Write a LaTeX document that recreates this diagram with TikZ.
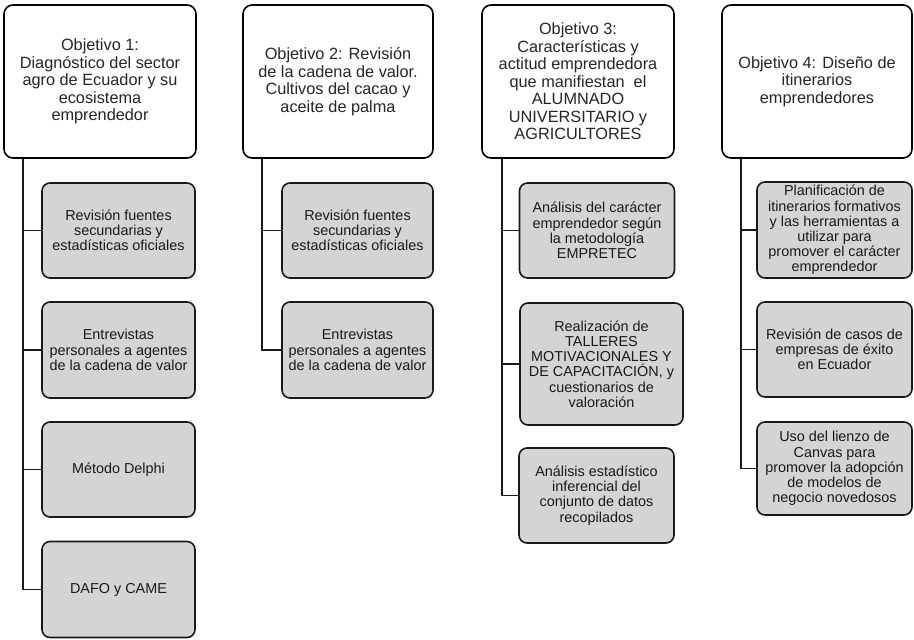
\documentclass[tikz,border=0pt]{standalone}
\usepackage{fontspec}
\setmainfont{Liberation Sans}
\begin{document}
\begin{tikzpicture}[x=1pt,y=-1pt,
  objbox/.style={draw=black,line width=1.6pt,rounded corners=9pt,fill=white,align=center,inner sep=0pt,font=\fontsize{16.3}{17.5}\selectfont,text=black!85},
  subbox/.style={draw=black!90,line width=1.6pt,rounded corners=8pt,fill=black!17,align=center,inner sep=0pt,font=\fontsize{14.4}{15.2}\selectfont,text=black!90},
  link/.style={draw=black!90,line width=1.6pt}]
\useasboundingbox (0,0) rectangle (914,640);
% Objective boxes
\node[objbox,minimum width=192pt,minimum height=153pt] (o1) at (100,81.5) {Objetivo 1:\\Diagnóstico del sector\\agro de Ecuador y su\\ecosistema\\emprendedor};
\node[objbox,minimum width=190pt,minimum height=153pt] (o2) at (338,81.5) {Objetivo 2: Revisión\\de la cadena de valor.\\Cultivos del cacao y\\aceite de palma};
\node[objbox,minimum width=192pt,minimum height=153pt] (o3) at (578,81.5) {Objetivo 3:\\Características y\\actitud emprendedora\\que manifiestan\ \ el\\ALUMNADO\\UNIVERSITARIO y\\AGRICULTORES};
\node[objbox,minimum width=190pt,minimum height=153pt] (o4) at (817,81.5) {Objetivo 4: Diseño de\\itinerarios\\emprendedores};
% Objective 1 children
\node[subbox,minimum width=153pt,minimum height=95pt] (a1) at (118.5,230.5) {Revisión fuentes\\secundarias y\\estadísticas oficiales};
\node[subbox,minimum width=153pt,minimum height=96pt] (a2) at (118.5,350) {Entrevistas\\personales a agentes\\de la cadena de valor};
\node[subbox,minimum width=153pt,minimum height=95pt] (a3) at (118.5,469.5) {Método Delphi};
\node[subbox,minimum width=153pt,minimum height=96pt] (a4) at (118.5,589.5) {DAFO y CAME};
% Objective 2 children
\node[subbox,minimum width=151pt,minimum height=95pt] (b1) at (357.5,230.5) {Revisión fuentes\\secundarias y\\estadísticas oficiales};
\node[subbox,minimum width=151pt,minimum height=96pt] (b2) at (357.5,350) {Entrevistas\\personales a agentes\\de la cadena de valor};
% Objective 3 children
\node[subbox,minimum width=155pt,minimum height=95pt] (c1) at (597,230.5) {Análisis del carácter\\emprendedor según\\la metodología\\EMPRETEC};
\node[subbox,minimum width=163pt,minimum height=122pt] (c2) at (601.5,364) {Realización de\\TALLERES\\MOTIVACIONALES Y\\DE CAPACITACIÓN, y\\cuestionarios de\\valoración};
\node[subbox,minimum width=155pt,minimum height=95pt] (c3) at (596.5,495.5) {Análisis estadístico\\inferencial del\\conjunto de datos\\recopilados};
% Objective 4 children
\node[subbox,minimum width=155pt,minimum height=96pt] (d1) at (834.5,230) {Planificación de\\itinerarios formativos\\y las herramientas a\\utilizar para\\promover el carácter\\emprendedor};
\node[subbox,minimum width=155pt,minimum height=95pt] (d2) at (834.5,349.5) {Revisión de casos de\\empresas de éxito\\en Ecuador};
\node[subbox,minimum width=155pt,minimum height=93pt] (d3) at (834.5,468.5) {Uso del lienzo de\\Canvas para\\promover la adopción\\de modelos de\\negocio novedosos};
% Connectors
\draw[link] (o1.south -| 23,0) |- (a1.west);
\draw[link] (o1.south -| 23,0) |- (a2.west);
\draw[link] (o1.south -| 23,0) |- (a3.west);
\draw[link] (o1.south -| 23,0) |- (a4.west);
\draw[link] (o2.south -| 262,0) |- (b1.west);
\draw[link] (o2.south -| 262,0) |- (b2.west);
\draw[link] (o3.south -| 502,0) |- (c1.west);
\draw[link] (o3.south -| 502,0) |- (c2.west);
\draw[link] (o3.south -| 502,0) |- (c3.west);
\draw[link] (o4.south -| 741,0) |- (d1.west);
\draw[link] (o4.south -| 741,0) |- (d2.west);
\draw[link] (o4.south -| 741,0) |- (d3.west);
\end{tikzpicture}
\end{document}
